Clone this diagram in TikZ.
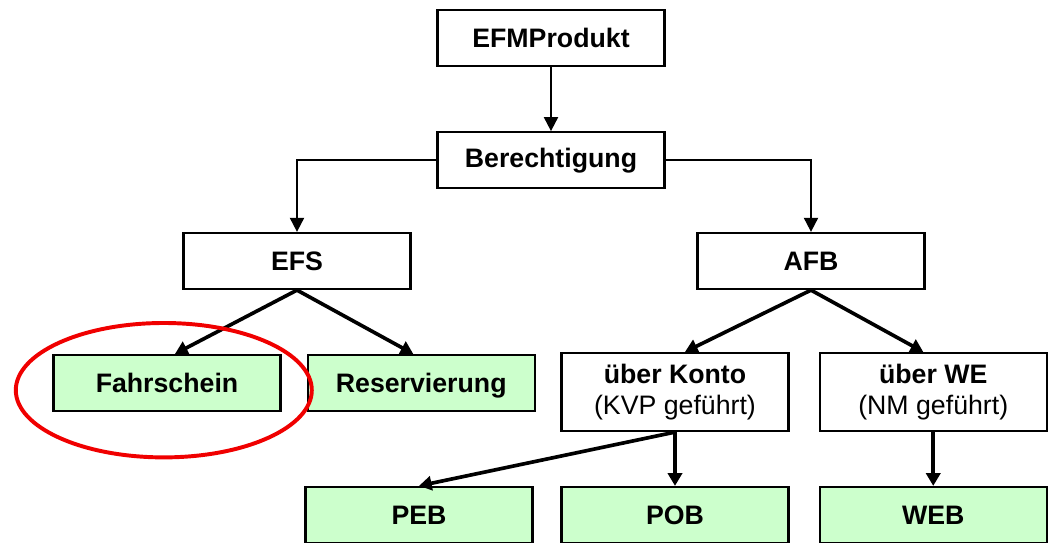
\documentclass[tikz,border=0pt]{standalone}
\usepackage{fontspec}
\setmainfont{Liberation Sans}
\usepackage{tikz}
\usetikzlibrary{positioning}
\usetikzlibrary{arrows.meta}
\definecolor{leaf}{RGB}{204,255,204}
\definecolor{mark}{RGB}{240,0,0}

\begin{document}
\begin{tikzpicture}[node distance=0cm,
    box/.style={draw, rectangle, line width=1.6pt, minimum width=5.675cm, minimum height=1.4cm, inner sep=0pt, align=center, font=\fontsize{19}{22}\selectfont\bfseries},
    leafbox/.style={box, fill=leaf, text height=13.7pt, text depth=0pt},
    tallbox/.style={box, minimum height=1.95cm},
    thin/.style={line width=1.4pt, -{Triangle[length=10pt,width=10pt]}},
    thick/.style={line width=2.6pt, -{Triangle[length=9pt,width=10pt]}},
    highlight/.style={draw=mark, line width=2.8pt}]

    \useasboundingbox (0,0) rectangle (26.225,-13.575);

    % Top
    \node (efm) [box] at (13.775,-0.95) {EFMProdukt};
    \node (ber) [box, below=1.6cm of efm] {Berechtigung};

    % Second level
    \node (efs) [box] at (7.425,-6.525) {EFS};
    \node (afb) [box] at (20.275,-6.525) {AFB};

    % EFS children
    \node (fahr) [leafbox] at (4.175,-9.575) {Fahrschein};
    \node (res) [leafbox, right=0.625cm of fahr] {Reservierung};

    % AFB children
    \node (konto) [tallbox] at (16.875,-9.8) {über Konto\\\mdseries(KVP geführt)};
    \node (we) [tallbox, right=0.725cm of konto] {über WE\\\mdseries(NM geführt)};

    % Bottom
    \node (peb) [leafbox] at (10.475,-12.875) {PEB};
    \node (pob) [leafbox] at (16.875,-12.875) {POB};
    \node (web) [leafbox, right=0.725cm of pob] {WEB};

    % Arrows
    \draw[thin] (efm.south) -- (ber.north);
    \draw[thin] (ber.west) -| (efs.north);
    \draw[thin] (ber.east) -| (afb.north);
    \draw[thick] (efs.south) -- ([xshift=0.2cm]fahr.north);
    \draw[thick] (efs.south) -- ([xshift=-0.2cm]res.north);
    \draw[thick] (afb.south) -- ([xshift=0.25cm]konto.north);
    \draw[thick] (afb.south) -- ([xshift=-0.25cm]we.north);
    \draw[thick] (konto.south) -- (peb.north);
    \draw[thick] (konto.south) -- (pob.north);
    \draw[thick] (we.south) -- (web.north);

    % Mark
    \draw[highlight] ([shift={(-0.08,-0.18)}]fahr.center) ellipse [x radius=3.7cm, y radius=1.68cm];

\end{tikzpicture}
\end{document}
